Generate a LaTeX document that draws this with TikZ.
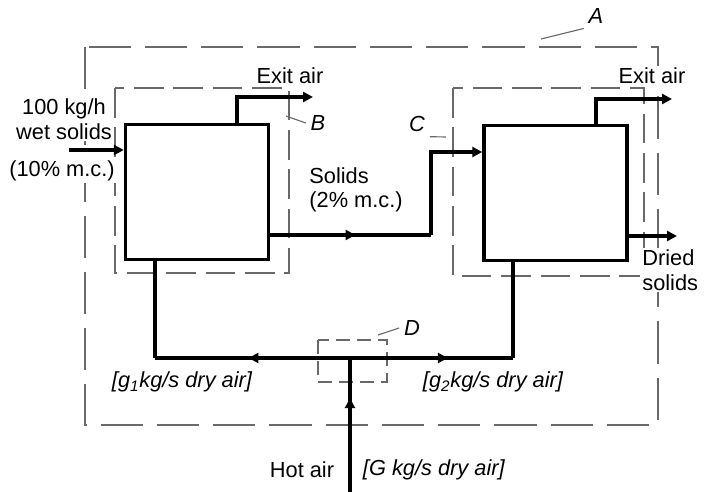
\documentclass[tikz,border=0pt]{standalone}
\usepackage{fontspec}
\setmainfont{Liberation Sans}
\usetikzlibrary{arrows.meta,decorations.markings}
\definecolor{zonecolor}{RGB}{105,105,105}

\begin{document}
\begin{tikzpicture}[x=0.025cm,y=-0.025cm,
font=\fontsize{15.5}{17.5}\selectfont,
dryer/.style={draw,line width=2.6pt,minimum width=3.57cm,minimum height=3.38cm,inner sep=0pt},
flow/.style={line width=2.6pt},
arr/.style={flow,-{Triangle[length=7pt,width=7pt]}},
midarr/.style={flow,postaction={decorate},decoration={markings,mark=at position #1 with {\arrow{Triangle[length=7pt,width=7pt]}}}},
zone/.style={draw=zonecolor,line width=1.1pt,dash pattern=on 24pt off 9pt},
lead/.style={draw=zonecolor,line width=0.8pt},
lbl/.style={fill=white,inner sep=1.5pt},
tag/.style={font=\fontsize{15.5}{17.5}\selectfont\itshape}]
\useasboundingbox (0,0) rectangle (706,492);
% control volumes
\draw[zone,dash pattern=on 30pt off 10pt] (85,47) rectangle (658,425);
\draw[zone,dash pattern=on 21pt off 7pt] (115,88) rectangle (289,273);
\draw[zone,dash pattern=on 21pt off 7pt] (453,88) rectangle (644,276);
\draw[zone,dash pattern=on 10pt off 5pt] (318,340) rectangle (387,382);
\node[tag] (la) at (596,16) {A};
\node[tag] (lb) at (318,123) {B};
\node[tag] (lc) at (417,124) {C};
\node[tag] (ld) at (412,328) {D};
\draw[lead] (541,39) -- (la.south west);
\draw[lead] (286,116) -- (lb.west);
\draw[lead] (lc.south east) -- (446,137);
\draw[lead] (378,335) -- (ld.west);
% dryers
\node[dryer] (d1) at (197,192) {};
\node[dryer] (d2) at (555.5,193) {};
% labels
\node[lbl] (t1) at (290,76) {Exit air};
\node[lbl] (t2) at (652,76) {Exit air};
\node[lbl,align=center] (tf) at (64,119) {100 kg/h\\wet solids};
\node[lbl] (tm) at (62,171) {(10\% m.c.)};
\node[lbl,align=left,anchor=west] (ts) at (307,190) {Solids\\(2\% m.c.)};
\node[lbl,align=left,anchor=west] (td) at (640,270) {Dried\\solids};
\node[tag] (g1) at (182,382) {[g\textsubscript{1}kg/s dry air]};
\node[tag] (g2) at (493,382) {[g\textsubscript{2}kg/s dry air]};
\node (th) at (302,470) {Hot air};
\node[tag,anchor=west] (tg) at (358,470) {[G kg/s dry air]};
% feed and exit air
\coordinate (feed) at (69,150);
\draw[arr] (feed) -- (feed -| d1.west);
\coordinate (e1) at (237,97);
\coordinate (x1) at (313,97);
\draw[arr] (e1 |- d1.north) -- (e1) -- (x1);
\coordinate (e2) at (596,99);
\coordinate (x2) at (672,99);
\draw[arr] (e2 |- d2.north) -- (e2) -- (x2);
% solids between dryers
\coordinate (s1) at (431,235);
\coordinate (s2) at (431,152);
\draw[midarr=0.53] (s1 -| d1.east) -- (s1);
\draw[arr] (s1) -- (s2) -- (s2 -| d2.west);
\coordinate (dry) at (677,236);
\draw[arr] (dry -| d2.east) -- (dry);
% air supply
\coordinate (j) at (350,358);
\coordinate (a1) at (155,358);
\coordinate (a2) at (513,358);
\coordinate (hot) at (350,492);
\draw[midarr=0.52] (j) -- (a1);
\draw[flow] (a1) -- (a1 |- d1.south);
\draw[midarr=0.6] (j) -- (a2);
\draw[flow] (a2) -- (a2 |- d2.south);
\draw[midarr=0.7] (hot) -- (j);
\end{tikzpicture}
\end{document}
